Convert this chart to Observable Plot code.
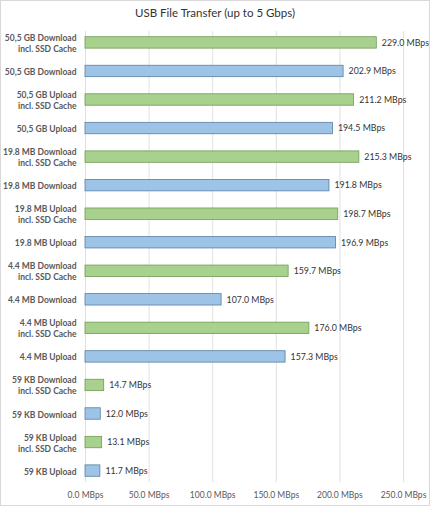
<!DOCTYPE html>
<html>
<head>
<meta charset="utf-8">
<script src="https://cdn.jsdelivr.net/npm/d3@7"></script>
<script src="https://cdn.jsdelivr.net/npm/@observablehq/plot@0.6"></script>
<style>
  body { margin: 0; background: #fff; }
  #chart {
    width: 430px; height: 506px; box-sizing: border-box;
    border: 1px solid #d9d9d9; font-family: Lato, sans-serif;
  }
  #title {
    height: 25px; line-height: 24px; text-align: center;
    font-size: 11.5px; color: #333;
  }
</style>
</head>
<body>
<div id="chart">
  <div id="title">USB File Transfer (up to 5 Gbps)</div>
</div>
<script>
const labels = [
  "50,5 GB Download\nincl. SSD Cache",
  "50,5 GB Download",
  "50,5 GB Upload\nincl. SSD Cache",
  "50,5 GB Upload",
  "19.8 MB Download\nincl. SSD Cache",
  "19.8 MB Download",
  "19.8 MB Upload\nincl. SSD Cache",
  "19.8 MB Upload",
  "4.4 MB Download\nincl. SSD Cache",
  "4.4 MB Download",
  "4.4 MB Upload\nincl. SSD Cache",
  "4.4 MB Upload",
  "59 KB Download\nincl. SSD Cache",
  "59 KB Download",
  "59 KB Upload\nincl. SSD Cache",
  "59 KB Upload"
];
const speeds = [229.0, 202.9, 211.2, 194.5, 215.3, 191.8, 198.7, 196.9,
                159.7, 107.0, 176.0, 157.3, 14.7, 12.0, 13.1, 11.7];
const xTicks = [0, 50, 100, 150, 200, 250];

const rows = labels.map((l, i) => ({
  label: l,
  mbps: speeds[i],
  cache: l.includes("SSD Cache")
}));

const fillFor = d => d.cache ? "#a9d18e" : "#9dc3e6";
const strokeFor = d => d.cache ? "#6f9a55" : "#5a7fa3";

document.getElementById("chart").appendChild(
  Plot.plot({
    width: 428,
    height: 479,
    marginLeft: 84,
    marginRight: 26,
    marginTop: 5,
    marginBottom: 23,
    style: "font-family: Lato, sans-serif; overflow: visible;",
    x: {domain: [0, 250]},
    y: {domain: labels, paddingInner: 0.6, paddingOuter: 0.2, round: false},
    marks: [
      Plot.gridX(xTicks, {stroke: "#d9d9d9", strokeOpacity: 1, strokeWidth: 0.8}),
      Plot.axisX(xTicks, {
        tickSize: 0,
        tickPadding: 9,
        fontSize: 8.5,
        fill: "#595959",
        tickFormat: d => d.toFixed(1) + " MBps",
        label: null
      }),
      Plot.axisY({
        tickSize: 0,
        tickPadding: 9,
        fontSize: 8.5,
        fontWeight: "bold",
        fill: "#595959",
        lineHeight: 1.3,
        label: null
      }),
      Plot.barX(rows, {
        x: "mbps",
        y: "label",
        fill: fillFor,
        stroke: strokeFor,
        strokeWidth: 0.8
      }),
      Plot.text(rows, {
        x: "mbps",
        y: "label",
        text: d => d.mbps.toFixed(1) + " MBps",
        textAnchor: "start",
        dx: 5,
        fontSize: 8.8,
        fill: "#333"
      })
    ]
  })
);
</script>
</body>
</html>
